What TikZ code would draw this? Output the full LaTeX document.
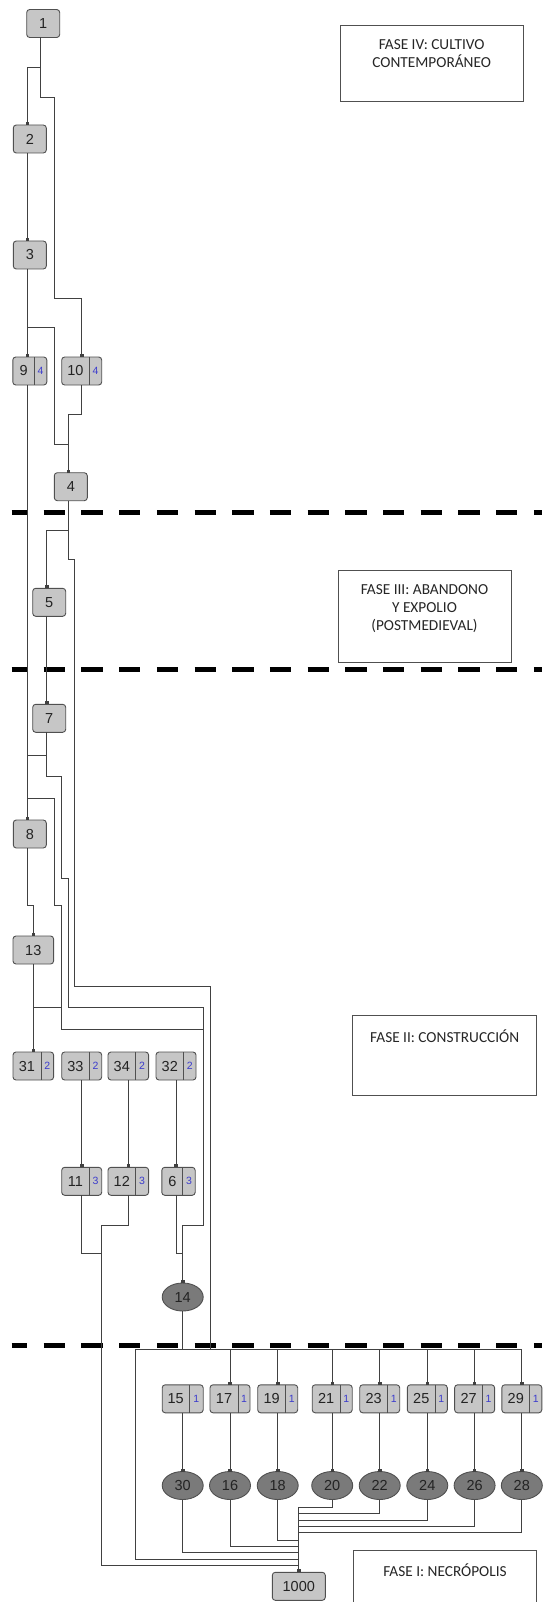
\documentclass[tikz,border=0pt]{standalone}
\usepackage{fontspec}
\setmainfont{Liberation Sans}
\newfontfamily\calibrifont{Carlito}
\usetikzlibrary{arrows.meta,shapes.geometric}
\definecolor{boxfill}{RGB}{198,198,198}
\definecolor{boxborder}{RGB}{80,80,80}
\definecolor{ovalfill}{RGB}{122,122,122}
\definecolor{wirecol}{RGB}{65,65,65}
\definecolor{smallblue}{RGB}{60,60,205}
\definecolor{numcol}{RGB}{35,35,35}
\newcommand{\numsize}{\fontsize{14.5}{16}\selectfont}
\newcommand{\smallnumsize}{\fontsize{10.5}{12}\selectfont}
\newcommand{\dbox}[7]{%
  \node[cell, minimum width=#4pt] (#1) at (#2,#3) {};
  \pgfmathsetmacro{\dboxhm}{#5/2}
  \pgfmathsetmacro{\dboxhs}{(#4-#5)/2}
  \draw[celldiv] ([xshift=#5pt]#1.north west) -- ([xshift=#5pt]#1.south west);
  \node[numtxt] (#1m) at ([xshift=\dboxhm pt]#1.west) {#6};
  \node[smalltxt] (#1s) at ([xshift=-\dboxhs pt]#1.east) {#7};
}
\begin{document}
\begin{tikzpicture}[x=1pt,y=-1pt,
  cell/.style={draw=boxborder, fill=boxfill, rounded corners=3pt, line width=0.9pt,
    minimum height=28pt, inner sep=0pt, outer sep=0pt, font=\numsize, text=numcol},
  celldiv/.style={draw=boxborder, line width=0.9pt},
  numtxt/.style={inner sep=0pt, font=\numsize, text=numcol},
  smalltxt/.style={inner sep=0pt, font=\smallnumsize, text=smallblue},
  oval/.style={ellipse, draw=boxborder, fill=ovalfill, line width=0.9pt, minimum width=41pt,
    minimum height=28pt, inner sep=0pt, outer sep=0pt, font=\numsize, text=numcol},
  wire/.style={draw=wirecol, line width=0.9pt},
  sq/.style={-{Square[length=3pt,width=3.4pt]}},
  phaseline/.style={draw=black, line width=5pt, dash pattern=on 21.3pt off 16.4pt, dash phase=5.7pt},
  fasebox/.style={draw=boxborder, line width=0.9pt, inner sep=0pt, outer sep=0pt},
  fasetext/.style={inner sep=0pt, align=center, font=\calibrifont\fontsize{15.3}{18.3}\selectfont, text=black!85}
]
\fill[white] (0,0) rectangle (542,1602);
\useasboundingbox (0,0) rectangle (542,1602);

% phase separators
\draw[phaseline] (11.7,512.3) -- (542,512.3);
\draw[phaseline] (11.7,669) -- (542,669);
\draw[phaseline] (11.7,1345.5) -- (542,1345.5);

% phase labels
\node[fasebox, minimum width=183.3pt, minimum height=76pt, anchor=north west] (f4) at (340,25) {};
\node[fasetext, anchor=north] (f4t) at ([yshift=-14pt]f4.north) {FASE IV: CULTIVO\\CONTEMPORÁNEO};
\node[fasebox, minimum width=173pt, minimum height=92pt, anchor=north west] (f3) at (338,570) {};
\node[fasetext, anchor=north] (f3t) at ([yshift=-14pt]f3.north) {FASE III: ABANDONO\\Y EXPOLIO\\(POSTMEDIEVAL)};
\node[fasebox, minimum width=184pt, minimum height=80pt, anchor=north west] (f2) at (352.7,1015.7) {};
\node[fasetext, anchor=north] (f2t) at ([yshift=-14pt]f2.north) {FASE II: CONSTRUCCIÓN};
\draw[fasebox] (353.3,1610) -- (353.3,1550) -- (536.7,1550) -- (536.7,1610);
\node[fasetext, anchor=north] (f1t) at (445,1564) {FASE I: NECRÓPOLIS};

% simple boxes
\node[cell, minimum width=33pt] (n1) at (43.2,23.5) {1};
\node[cell, minimum width=33pt] (n2) at (29.8,139) {2};
\node[cell, minimum width=33pt] (n3) at (29.8,255) {3};
\node[cell, minimum width=33pt] (n4) at (70.8,486.7) {4};
\node[cell, minimum width=33pt] (n5) at (49.2,602.3) {5};
\node[cell, minimum width=33pt] (n7) at (49.2,718.3) {7};
\node[cell, minimum width=33pt] (n8) at (29.8,834) {8};
\node[cell, minimum width=40.6pt] (n13) at (33.3,950) {13};
\node[cell, minimum width=53pt] (n1000) at (298.8,1586.3) {1000};

% divided boxes
\dbox{n9}{29.8}{371}{34}{21.6}{9}{4}
\dbox{n10}{81.7}{371}{40}{27.5}{10}{4}
\dbox{n31}{33.3}{1066}{40.6}{28}{31}{2}
\dbox{n33}{81.7}{1066}{40}{27.5}{33}{2}
\dbox{n34}{128.3}{1066}{40.6}{27.5}{34}{2}
\dbox{n32}{176}{1066}{40}{27.5}{32}{2}
\dbox{n11}{81.7}{1181.3}{40}{27.5}{11}{3}
\dbox{n12}{128.3}{1181.3}{40.6}{27.5}{12}{3}
\dbox{n6}{178.5}{1181.3}{33.4}{21}{6}{3}
\dbox{n15}{182.7}{1398.8}{41}{27}{15}{1}
\dbox{n17}{230}{1398.8}{40}{28}{17}{1}
\dbox{n19}{277.7}{1398.8}{40}{28}{19}{1}
\dbox{n21}{332.2}{1398.8}{40}{28}{21}{1}
\dbox{n23}{379.7}{1398.8}{40}{28}{23}{1}
\dbox{n25}{427.3}{1398.8}{40}{28}{25}{1}
\dbox{n27}{474.6}{1398.8}{40}{28}{27}{1}
\dbox{n29}{521.8}{1398.8}{40}{28}{29}{1}

% ellipses
\node[oval] (e14) at (182.7,1297) {14};
\node[oval] (e30) at (182.7,1485.5) {30};
\node[oval] (e16) at (230,1485.5) {16};
\node[oval] (e18) at (277.7,1485.5) {18};
\node[oval] (e20) at (332.2,1485.5) {20};
\node[oval] (e22) at (379.7,1485.5) {22};
\node[oval] (e24) at (427.3,1485.5) {24};
\node[oval] (e26) at (474.6,1485.5) {26};
\node[oval] (e28) at (521.8,1485.5) {28};

% junction coordinates
\coordinate (j4) at (68.3,444);
\coordinate (j8) at (27.3,755);
\coordinate (j14a) at (203.3,1029);
\coordinate (j14b) at (182.7,1253);
\coordinate (j13) at (61,1007.7);
\coordinate (j11) at (101,1225);
\coordinate (bus) at (182.7,1349);
\coordinate (busin) at (210,1349);

% connectors
\draw[wire,sq] ([xshift=-2.5pt]n1.south) -- (40.7,67) -| ([xshift=-2.5pt]n2.north);
\draw[wire,sq] ([xshift=-2.5pt]n1.south) |- (54.3,97) -- (54.3,298) -| (n10.north);
\draw[wire,sq] ([xshift=-2.5pt]n2.south) -- ([xshift=-2.5pt]n3.north);
\draw[wire,sq] ([xshift=-2.5pt]n3.south) -- ([xshift=-2.5pt]n9.north);
\draw[wire,sq] ([xshift=-2.5pt]n3.south) |- (54.3,327.7) |- (j4) -- ([xshift=-2.5pt]n4.north);
\draw[wire] (n10.south) |- (68.3,414) -- (j4);
\draw[wire,sq] ([xshift=-2.5pt]n9.south) -- ([xshift=-2.5pt]n8.north);
\draw[wire,sq] ([xshift=-2.5pt]n4.south) |- (46.7,530) -- ([xshift=-2.5pt]n5.north);
\draw[wire] ([xshift=-2.5pt]n4.south) -- (68.3,559.3) -| (74,986.7) -| (busin);
\draw[wire,sq] ([xshift=-2.5pt]n5.south) -- ([xshift=-2.5pt]n7.north);
\draw[wire] ([xshift=-2.5pt]n7.south) |- (j8);
\draw[wire,sq] ([xshift=-2.5pt]n7.south) |- (61,776) |- (68.3,878.3) |- (203.3,1007.7) |- (182.7,1225) -- (e14.north);
\draw[wire] ([xshift=-2.5pt]n9.south) |- (54.3,798.3) |- (61,905) |- (j14a);
\draw[wire,sq] ([xshift=-2.5pt]n8.south) |- (33.3,905) -- (n13.north);
\draw[wire,sq] (n13.south) -- (n31.north);
\draw[wire] (n13.south) |- (j13);
\draw[wire,sq] (n33.south) -- (n11.north);
\draw[wire,sq] (n34.south) -- (n12.north);
\draw[wire,sq] (n32.south) -- ([xshift=-2.5pt]n6.north);
\draw[wire] (n11.south) |- (101,1253) |- (298.8,1565.7);
\draw[wire] (n12.south) |- (j11) -- (101,1253);
\draw[wire] ([xshift=-2.5pt]n6.south) |- (j14b);
\draw[wire] (e14.south) |- (135,1349) |- (298.8,1559.3);
\draw[wire] (e14.south) -- (bus);
\foreach \n in {n17,n19,n21,n23,n25,n27,n29}{
  \draw[wire,sq] (bus) -| (\n.north);
}
\draw[wire,sq] (n15.south) -- (e30.north);
\draw[wire,sq] (n17.south) -- (e16.north);
\draw[wire,sq] (n19.south) -- (e18.north);
\draw[wire,sq] (n21.south) -- (e20.north);
\draw[wire,sq] (n23.south) -- (e22.north);
\draw[wire,sq] (n25.south) -- (e24.north);
\draw[wire,sq] (n27.south) -- (e26.north);
\draw[wire,sq] (n29.south) -- (e28.north);
\draw[wire,sq] (e20.south) |- (298.8,1507.3) -- (n1000.north);
\draw[wire] (e22.south) |- (298.8,1513.3);
\draw[wire] (e24.south) |- (298.8,1520);
\draw[wire] (e26.south) |- (298.8,1526.7);
\draw[wire] (e28.south) |- (298.8,1532.7);
\draw[wire] (e18.south) |- (298.8,1540);
\draw[wire] (e16.south) |- (298.8,1546);
\draw[wire] (e30.south) |- (298.8,1552.3);
\end{tikzpicture}
\end{document}
